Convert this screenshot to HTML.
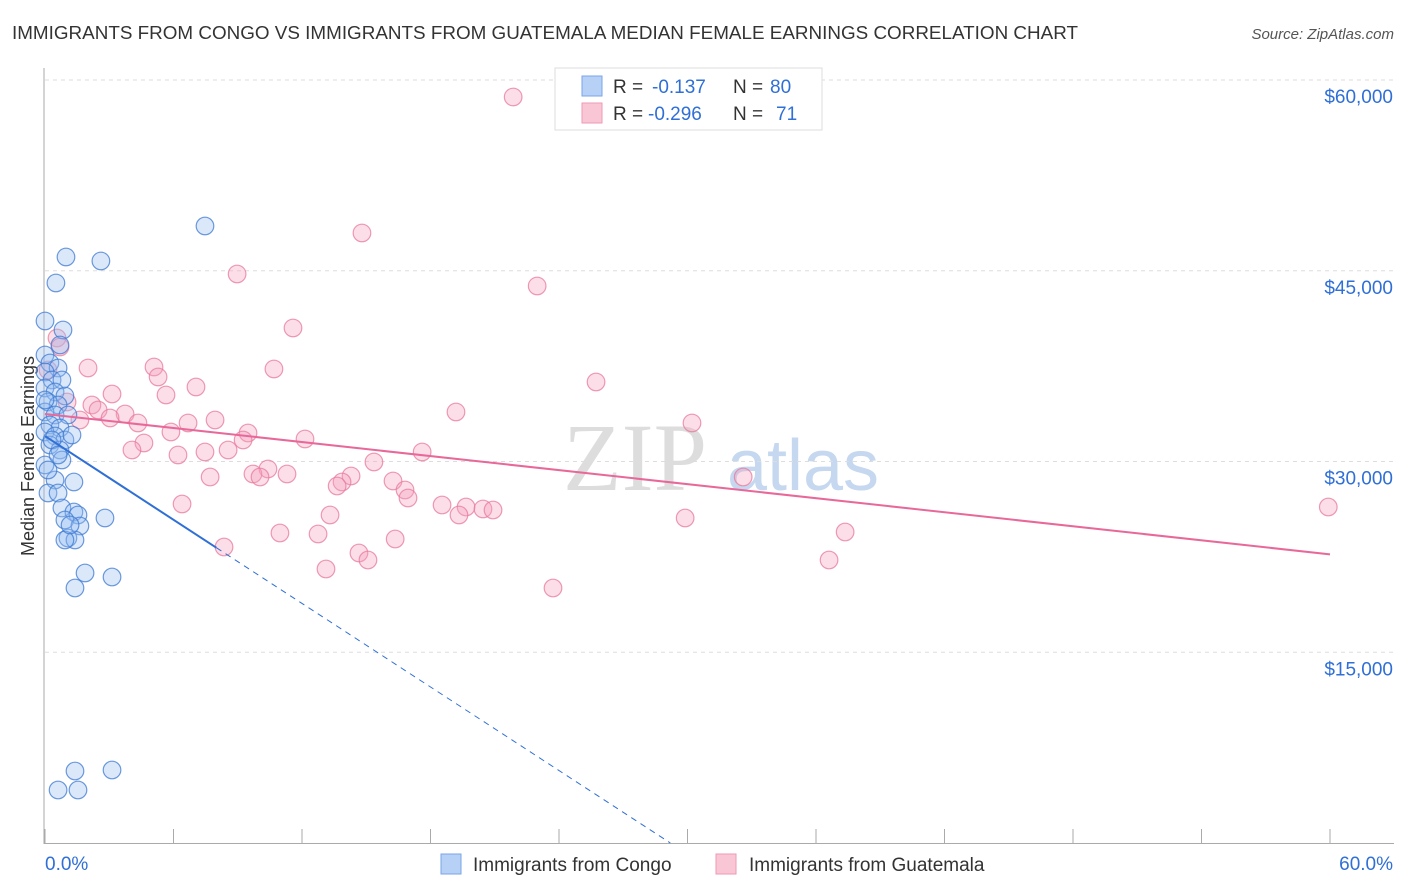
<!DOCTYPE html>
<html><head><meta charset="utf-8"><style>
body{margin:0;background:#fff;font-family:"Liberation Sans",sans-serif;}
svg{display:block}
</style></head><body>
<svg id="chart" width="1406" height="892">
<text x="12" y="39" font-size="18" fill="#333" textLength="1066" lengthAdjust="spacingAndGlyphs">IMMIGRANTS FROM CONGO VS IMMIGRANTS FROM GUATEMALA MEDIAN FEMALE EARNINGS CORRELATION CHART</text>
<text x="1394" y="39" font-size="15" fill="#555" font-style="italic" text-anchor="end">Source: ZipAtlas.com</text>
<text x="34" y="456" font-size="18" fill="#333" text-anchor="middle" transform="rotate(-90 34 456)">Median Female Earnings</text>
<g>
<text x="635" y="490" font-size="96" font-family="Liberation Serif,serif" fill="#ddd" text-anchor="middle">ZIP</text>
<text x="803" y="490" font-size="72" fill="#c5d8f0" text-anchor="middle">atlas</text>
</g>
<g id="grid"></g><g id="axes"></g><g id="pts"></g><g id="lines"></g>
<g>
<rect x="555" y="68" width="267" height="62" fill="#fff" stroke="#ddd"/>
<rect x="582" y="76" width="20" height="20" fill="#b7d0f5" stroke="#7aa5e8"/>
<rect x="582" y="103" width="20" height="20" fill="#f9c6d6" stroke="#ee99b4"/>
<text y="93" font-size="19" fill="#333"><tspan x="613">R =</tspan><tspan x="652" fill="#2f6fd6">-0.137</tspan><tspan x="733">N =</tspan><tspan x="770" fill="#2f6fd6">80</tspan></text>
<text y="120" font-size="19" fill="#333"><tspan x="613">R =</tspan><tspan x="648" fill="#2f6fd6">-0.296</tspan><tspan x="733">N =</tspan><tspan x="776" fill="#2f6fd6">71</tspan></text>
</g>
<g>
<rect x="441" y="854" width="20" height="20" fill="#b7d0f5" stroke="#7aa5e8"/>
<text x="473" y="871" font-size="19" fill="#333">Immigrants from Congo</text>
<rect x="716" y="854" width="20" height="20" fill="#f9c6d6" stroke="#ee99b4"/>
<text x="749" y="871" font-size="19" fill="#333">Immigrants from Guatemala</text>
</g>
</svg>
<script>
const yTicks=[15000,30000,45000,60000];
const yTickLabels=["$15,000","$30,000","$45,000","$60,000"];
const xTicks=[0,6,12,18,24,30,36,42,48,54,60];
const congoX=[7.47,0.98,2.61,0.51,0,0.84,0.70,0,0.23,0.61,0,0.33,0.79,0,0.47,0.93,0.14,0.61,0,0.47,1.07,0.23,0.70,0,0.47,0.93,1.26,0.23,0.70,0,0.79,0.47,1.35,0.14,0.61,0.79,1.35,1.54,0.93,1.63,2.80,1.07,1.40,0.93,1.87,3.13,1.40,1.40,3.13,0.61,1.54,0,0.33,0.61,0.14,1.17];
const congoY=[48520,46083,45768,44038,41050,40342,39163,38376,37747,37354,37040,36411,36411,35781,35467,35152,34680,34444,33894,33658,33658,32872,32636,32321,32007,31692,32085,31299,30906,29726,30119,28546,28389,27524,27524,26344,26030,25794,25401,24929,25558,23985,23828,23828,21233,20918,20053,5662,5741,4168,4168,34837,31692,30513,29333,25007];
const guatX=[21.86,14.80,8.97,22.98,11.58,0.56,0.70,0.14,2.01,5.09,5.28,10.69,25.73,7.05,3.13,5.65,1.03,2.19,2.48,19.19,3.74,3.04,6.68,7.94,4.34,1.63,30.21,9.48,5.88,9.25,12.14,4.62,4.06,7.47,8.55,17.61,6.21,15.36,10.41,9.71,11.30,10.04,14.29,13.87,13.64,16.25,16.81,16.95,7.71,32.60,6.40,18.54,19.66,20.45,20.92,19.33,13.31,59.92,29.89,10.97,12.75,37.36,16.35,8.36,14.66,15.08,36.61,13.12,23.72];
const guatY=[58665,47970,44746,43802,40500,39713,39005,37197,37354,37433,36647,37276,36253,35860,35309,35231,34680,34444,34051,33894,33737,33422,33029,33265,33029,33265,33029,32242,32321,31692,31771,31456,30906,30749,30906,30749,30513,29962,29412,29019,29019,28782,28861,28389,28074,28468,27760,27131,28782,28782,26659,26580,26423,26266,26187,25794,25794,26423,25558,24378,24300,24457,23906,23277,22805,22255,22255,21547,20053];
const congoTrend=[32000,-1097,8,29.2];
const guatTrend=[33737,-184];
const NS="http://www.w3.org/2000/svg";
const X=v=>45+v/60*1285, Y=v=>843-v/60000*763;
function mk(t,a,p){const e=document.createElementNS(NS,t);for(const k in a)e.setAttribute(k,a[k]);p.appendChild(e);return e;}
const grid=document.getElementById('grid'),axes=document.getElementById('axes');
yTicks.forEach((t,i)=>{
 const l=mk('line',{x1:45,x2:1394,y1:Y(t),y2:Y(t),stroke:'#ddd','stroke-dasharray':'4 4'},grid);
 
 
 const tx=mk('text',{x:1393,y:Y(t)+23,'font-size':19,fill:'#2f6fd6','text-anchor':'end'},axes);tx.textContent=yTickLabels[i];
 
 
});
mk('line',{x1:44,x2:44,y1:68,y2:844,stroke:'#aaa'},axes);
mk('line',{x1:44,x2:1394,y1:843.5,y2:843.5,stroke:'#aaa'},axes);
xTicks.forEach(t=>{const l=mk('line',{x1:X(t),x2:X(t),y1:829,y2:844,stroke:'#aaa'},axes);
 
 });
let a=mk('text',{x:45,y:870,'font-size':19,fill:'#2f6fd6'},axes);a.textContent='0.0%';

a=mk('text',{x:1393,y:870,'font-size':19,fill:'#2f6fd6','text-anchor':'end'},axes);a.textContent='60.0%';

const pts=document.getElementById('pts');
guatX.forEach((x,i)=>{const c=mk('circle',{cx:X(x),cy:Y(guatY[i]),r:8.8,fill:'rgba(244,160,188,0.35)',stroke:'rgba(232,120,155,0.75)','stroke-width':1.2},pts);
 
 });
congoX.forEach((x,i)=>{const c=mk('circle',{cx:X(x),cy:Y(congoY[i]),r:8.8,fill:'rgba(150,190,240,0.35)',stroke:'rgba(60,120,210,0.75)','stroke-width':1.2},pts);
 
 });
const ln=document.getElementById('lines');
const cf=x=>congoTrend[0]+congoTrend[1]*x;
let l=mk('line',{x1:X(0),y1:Y(cf(0)),x2:X(congoTrend[2]),y2:Y(cf(congoTrend[2])),stroke:'#2f6fd6','stroke-width':2},ln);


l=mk('line',{x1:X(congoTrend[2]),y1:Y(cf(congoTrend[2])),x2:X(congoTrend[3]),y2:Y(Math.max(0,cf(congoTrend[3]))),stroke:'#2f6fd6','stroke-width':1,'stroke-dasharray':'6 5'},ln);


const gf=x=>guatTrend[0]+guatTrend[1]*x;
l=mk('line',{x1:X(0),y1:Y(gf(0)),x2:X(60),y2:Y(gf(60)),stroke:'#e8689a','stroke-width':2},ln);


</script>
</body></html>
